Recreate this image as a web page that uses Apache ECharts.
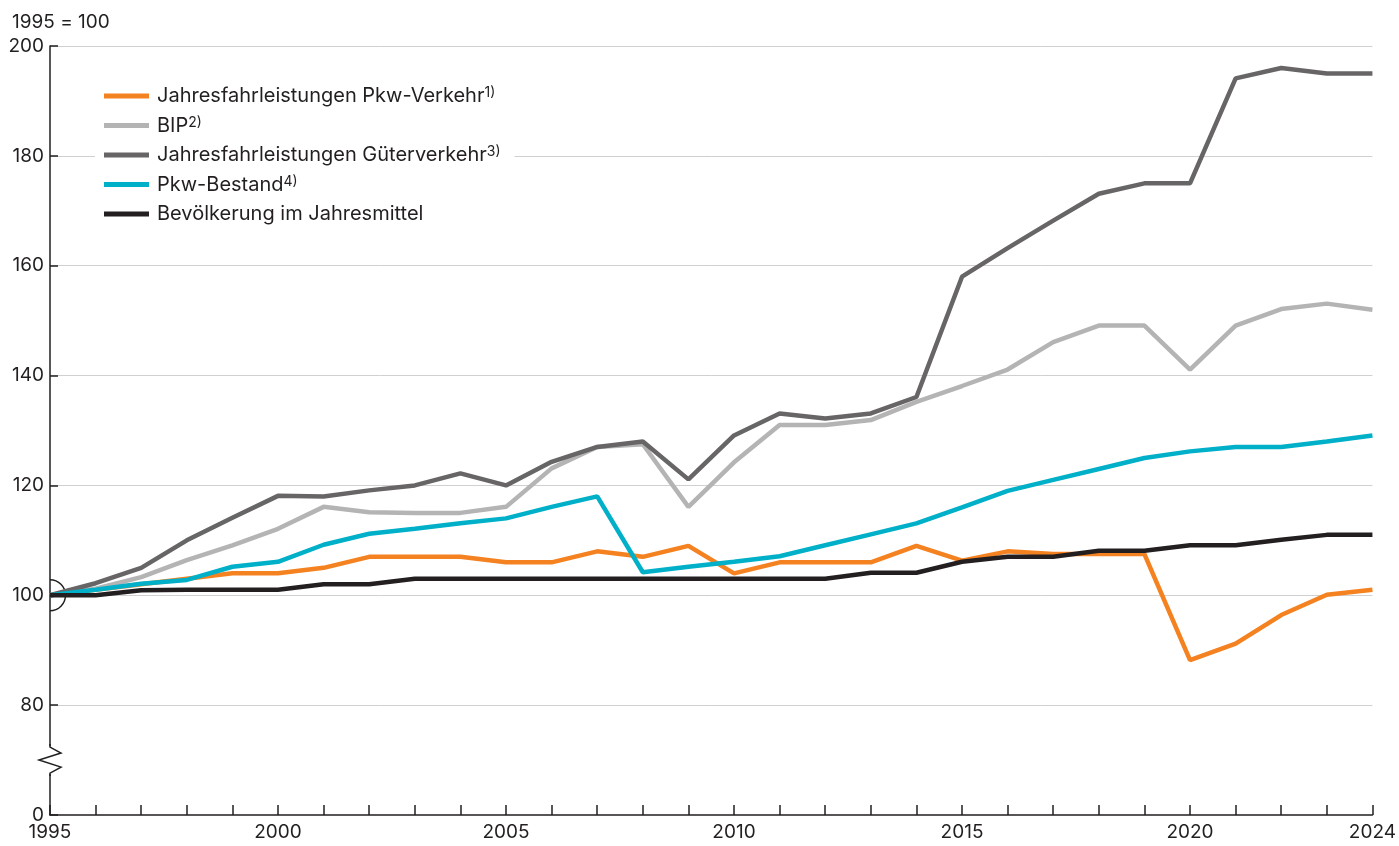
<!DOCTYPE html>
<html><head><meta charset="utf-8">
<script src="https://cdn.jsdelivr.net/npm/echarts@6/dist/echarts.min.js"></script>
<style>html,body{margin:0;padding:0;background:#fff}#c{width:1399px;height:846px}</style>
</head><body><div id="c"></div>
<script>
const years = [1995,1996,1997,1998,1999,2000,2001,2002,2003,2004,2005,2006,2007,2008,2009,2010,2011,2012,2013,2014,2015,2016,2017,2018,2019,2020,2021,2022,2023,2024];
const pkwVerkehr = [100,101,102,103,104,104,105,107,107,107,106,106,108,107,109,104,106,106,106,109,106.3,108,107.5,107.5,107.5,88.2,91.2,96.4,100.1,101];
const bip = [100,101.2,103.3,106.4,109.1,112.1,116.1,115.1,115,115,116.1,123.1,127,127.5,116.1,124.2,131,131,131.9,135.2,138.1,141.1,146.1,149.1,149.1,141.1,149.1,152.1,153.1,152];
const gueterverkehr = [100,102.2,105,110,114.1,118.1,118,119.1,120,122.2,120,124.3,127,128,121.1,129.1,133.1,132.2,133.1,136.1,158,163.2,168.2,173.1,175,175,194.1,196,195,195];
const pkwBestand = [100,101,102.1,102.8,105.2,106.1,109.2,111.2,112.1,113.1,114,116.1,118,104.2,105.2,106.1,107.1,109.1,111.1,113.1,116,119,121,123,125,126.2,127,127,128,129.1];
const bevoelkerung = [100,100,100.9,101,101,101,102,102,103,103,103,103,103,103,103,103,103,103,104.1,104.1,106.1,107,107,108.1,108.1,109.1,109.1,110.1,111,111];
const seriesNames = ['Jahresfahrleistungen Pkw-Verkehr','BIP','Jahresfahrleistungen Güterverkehr','Pkw-Bestand','Bevölkerung im Jahresmittel'];
const seriesNotes = ['1)','2)','3)','4)',''];
const seriesColors = ['#f58220','#b4b4b4','#686567','#00b0c8','#231f20'];
const yTickLabels = {60:'0',80:'80',100:'100',120:'120',140:'140',160:'160',180:'180',200:'200'};
const xLabelYears = [1995,2000,2005,2010,2015,2020,2024];

const FONT = 'Inter, "Noto Sans", sans-serif';
const chart = echarts.init(document.getElementById('c'));
const allData = [pkwVerkehr,bip,gueterverkehr,pkwBestand,bevoelkerung];
const notes = {};
seriesNames.forEach((n,i)=>notes[n]=seriesNotes[i]);

chart.setOption({
  animation:false,
  textStyle:{fontFamily:FONT},
  title:{text:'1995 = 100',left:7,top:8,textStyle:{fontSize:19,fontWeight:'normal',color:'#231f20',fontFamily:FONT}},
  grid:{left:50,right:26,top:46,bottom:31},
  legend:{
    show:true,orient:'vertical',left:95,top:76,
    backgroundColor:'#fff',padding:[10,14,10,9],
    itemWidth:45,itemHeight:5,itemGap:9.5,icon:'rect',
    data:seriesNames,
    formatter:n=>notes[n]?'{t|'+n+'}{s|'+notes[n]+'}':'{t|'+n+'}',
    textStyle:{color:'#231f20',fontSize:20,lineHeight:20,fontFamily:FONT,padding:[0,0,0,3],
      rich:{t:{fontSize:20,lineHeight:20,fontFamily:FONT,color:'#231f20'},
            s:{fontSize:14,lineHeight:20,fontFamily:FONT,color:'#231f20',verticalAlign:'top'}}}
  },
  xAxis:{
    type:'value',min:1995,max:2024,interval:1,
    axisLine:{show:true,onZero:false,lineStyle:{color:'#231f20',width:1.5}},
    axisTick:{show:true,inside:true,length:10,lineStyle:{color:'#231f20',width:1.5}},
    splitLine:{show:false},
    axisLabel:{margin:8,fontSize:19,color:'#231f20',fontFamily:FONT,showMinLabel:true,showMaxLabel:true,
      formatter:v=>xLabelYears.includes(v)?String(v):''}
  },
  yAxis:{
    type:'value',min:60,max:200,interval:20,
    axisLine:{show:true,lineStyle:{color:'#231f20',width:1.5}},
    axisTick:{show:true,inside:true,length:8,lineStyle:{color:'#231f20',width:1.5}},
    splitLine:{show:true,showMinLine:false,lineStyle:{color:'#d0d0d0',width:1}},
    axisLabel:{margin:6,fontSize:19,color:'#231f20',fontFamily:FONT,formatter:v=>yTickLabels[v]||''}
  },
  series:seriesNames.map((n,i)=>({
    name:n,type:'line',showSymbol:false,symbol:'none',
    data:years.map((y,j)=>[y,allData[i][j]]),
    lineStyle:{color:seriesColors[i],width:4.5},
    itemStyle:{color:seriesColors[i]},
    z:2+i
  }))
});

function decorate(){
  const p100 = chart.convertToPixel({gridIndex:0},[1995,100]);
  const pb = chart.convertToPixel({gridIndex:0},[1995,70]);
  const x = p100[0], yb = pb[1];
  chart.setOption({graphic:[
    {type:'arc',shape:{cx:x,cy:p100[1],r:15.5,startAngle:-Math.PI/2,endAngle:Math.PI/2},
     style:{stroke:'#231f20',lineWidth:1.5,fill:null},z:1},
    {type:'rect',shape:{x:x-3,y:yb-14,width:6,height:28},style:{fill:'#fff'},z:100},
    {type:'polyline',shape:{points:[[x,yb-16],[x,yb-13],[x+11,yb-7],[x-11,yb],[x+11,yb+7],[x,yb+13],[x,yb+16]]},
     style:{stroke:'#231f20',lineWidth:1.5,fill:null},z:101}
  ]});
}
decorate();
</script></body></html>
